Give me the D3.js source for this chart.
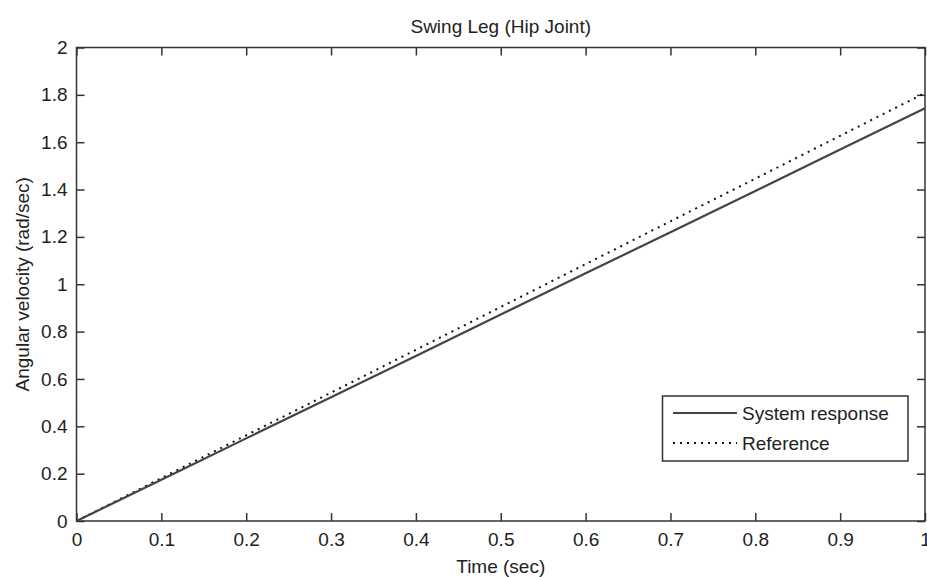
<!DOCTYPE html>
<html><head><meta charset="utf-8">
<script src="https://cdn.jsdelivr.net/npm/d3@7"></script>
<style>
body{margin:0;background:#fff;}
text{font-family:"Liberation Sans",Arial,sans-serif;fill:#222;}
</style></head>
<body><svg id="c" width="927" height="577"></svg>
<script>
const time = [0, 0.1, 0.2, 0.3, 0.4, 0.5, 0.6, 0.7, 0.8, 0.9, 1.0];
const systemResponse = [0, 0.174, 0.349, 0.523, 0.697, 0.872, 1.046, 1.220, 1.394, 1.569, 1.743];
const reference = [0, 0.181, 0.362, 0.542, 0.723, 0.904, 1.085, 1.266, 1.446, 1.627, 1.808];
const xTicks = [0, 0.1, 0.2, 0.3, 0.4, 0.5, 0.6, 0.7, 0.8, 0.9, 1];
const yTicks = [0, 0.2, 0.4, 0.6, 0.8, 1, 1.2, 1.4, 1.6, 1.8, 2];
const seriesNames = ["System response", "Reference"];

const L = 76.5, R = 925, T = 47.5, B = 521;
const svg = d3.select("#c");
const x = d3.scaleLinear().domain([0, 1]).range([L, R]);
const y = d3.scaleLinear().domain([0, 2]).range([B, T]);
const fs = 19;
const axisCol = "#333";

function styleAxis(g, hideText) {
  g.select(".domain").remove();
  g.selectAll(".tick line").attr("stroke", axisCol).attr("stroke-width", 1.5);
  g.selectAll(".tick text").style("font-size", fs + "px").attr("fill", "#222");
  if (hideText) g.selectAll(".tick text").remove();
}
const fmt = d => String(+d.toFixed(1));
svg.append("g").attr("transform", `translate(0,${B})`)
  .call(d3.axisBottom(x).tickValues(xTicks).tickFormat(fmt).tickSizeInner(-8).tickSizeOuter(0).tickPadding(12))
  .call(g => styleAxis(g, false));
svg.append("g").attr("transform", `translate(0,${T})`)
  .call(d3.axisTop(x).tickValues(xTicks).tickSizeInner(-8).tickSizeOuter(0))
  .call(g => styleAxis(g, true));
svg.append("g").attr("transform", `translate(${L},0)`)
  .call(d3.axisLeft(y).tickValues(yTicks).tickFormat(fmt).tickSizeInner(-8).tickSizeOuter(0).tickPadding(9))
  .call(g => styleAxis(g, false));
svg.append("g").attr("transform", `translate(${R},0)`)
  .call(d3.axisRight(y).tickValues(yTicks).tickSizeInner(-8).tickSizeOuter(0))
  .call(g => styleAxis(g, true));

svg.append("rect").attr("x", L).attr("y", T).attr("width", R - L).attr("height", B - T)
  .attr("fill", "none").attr("stroke", axisCol).attr("stroke-width", 1.5);

const line = d3.line().x(d => x(d[0])).y(d => y(d[1]));
svg.append("path").datum(time.map((t, i) => [t, reference[i]]))
  .attr("d", line).attr("fill", "none").attr("stroke", "#111")
  .attr("stroke-width", 2).attr("stroke-dasharray", "2,5");
svg.append("path").datum(time.map((t, i) => [t, systemResponse[i]]))
  .attr("d", line).attr("fill", "none").attr("stroke", "#444").attr("stroke-width", 2.2);

svg.append("text").attr("x", (L + R) / 2).attr("y", 33).attr("text-anchor", "middle")
  .style("font-size", fs + "px").text("Swing Leg (Hip Joint)");
svg.append("text").attr("x", (L + R) / 2).attr("y", 573).attr("text-anchor", "middle")
  .style("font-size", fs + "px").text("Time (sec)");
svg.append("text").attr("transform", `translate(29,${(T + B) / 2}) rotate(-90)`)
  .attr("text-anchor", "middle").style("font-size", fs + "px").text("Angular velocity (rad/sec)");

// legend
const lg = svg.append("g");
lg.append("rect").attr("x", 662.5).attr("y", 396).attr("width", 245.5).attr("height", 65)
  .attr("fill", "#fff").attr("stroke", axisCol).attr("stroke-width", 1.5);
const rows = [413, 443];
seriesNames.forEach((n, i) => {
  lg.append("line").attr("x1", 673).attr("x2", 737).attr("y1", rows[i]).attr("y2", rows[i])
    .attr("stroke", i === 0 ? "#444" : "#111").attr("stroke-width", 2)
    .attr("stroke-dasharray", i === 0 ? null : "2,5");
  lg.append("text").attr("x", 742).attr("y", rows[i]).attr("dy", "0.35em")
    .style("font-size", fs + "px").text(n);
});
</script></body></html>
